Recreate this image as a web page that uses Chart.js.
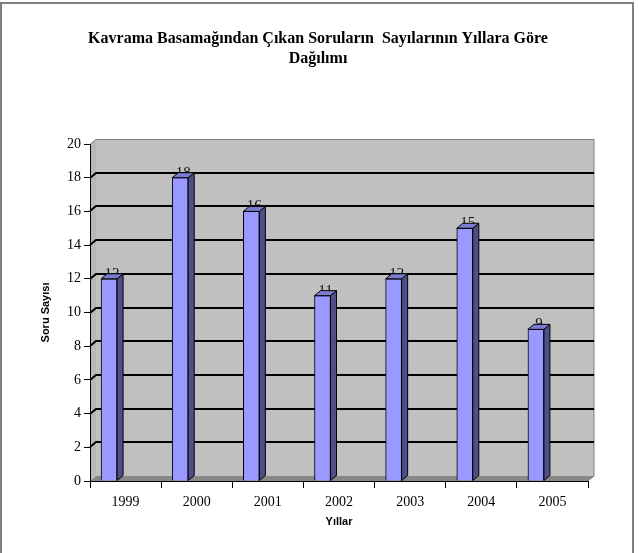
<!DOCTYPE html>
<html><head><meta charset="utf-8">
<script src="https://cdn.jsdelivr.net/npm/chart.js@4/dist/chart.umd.min.js"></script>
<style>html,body{margin:0;padding:0;background:#fff}#wrap{position:relative;width:639px;height:553px}canvas{display:block}</style>
</head><body><div id="wrap"><canvas id="c" width="639" height="553"></canvas></div>
<script>
const years = ['1999', '2000', '2001', '2002', '2003', '2004', '2005'];
const counts = [12, 18, 16, 11, 12, 15, 9];
const yMin = 0, yMax = 20, yStep = 2;
const chartTitle = ['Kavrama Basamağından Çıkan Soruların  Sayılarının Yıllara Göre', 'Dağılımı'];
const xTitle = 'Yıllar';
const yTitle = 'Soru Sayısı';

// 3D look parameters (style only)
const DX = 6, DY = 5, SHIFT = -16.5;

function poly(ctx, pts, fill, stroke, lw) {
  ctx.beginPath();
  ctx.moveTo(pts[0][0], pts[0][1]);
  for (let i = 1; i < pts.length; i++) ctx.lineTo(pts[i][0], pts[i][1]);
  ctx.closePath();
  if (fill) { ctx.fillStyle = fill; ctx.fill(); }
  if (stroke) { ctx.strokeStyle = stroke; ctx.lineWidth = lw || 1; ctx.stroke(); }
}

const scene3d = {
  id: 'scene3d',
  beforeDraw(chart) {
    const { ctx, chartArea: a, scales: { y } } = chart;
    ctx.save();
    ctx.fillStyle = '#fff';
    ctx.fillRect(0, 0, chart.width, chart.height);
    ctx.strokeStyle = '#808080'; ctx.lineWidth = 2;
    ctx.strokeRect(1, 3, 632, 600);
    const L = a.left, R = a.right, T = a.top, B = a.bottom;
    ctx.fillStyle = '#c0c0c0';
    ctx.fillRect(L + DX, T - DY, R - L, B - T);
    poly(ctx, [[L, T], [L + DX, T - DY], [L + DX, B - DY], [L, B]], '#b8b8b8');
    poly(ctx, [[L, B], [L + DX, B - DY], [R + DX, B - DY], [R, B]], '#888888');
    ctx.strokeStyle = '#808080'; ctx.lineWidth = 1;
    ctx.beginPath();
    ctx.moveTo(L, T + 0.5); ctx.lineTo(L + DX, T - DY + 0.5); ctx.lineTo(R + DX, T - DY + 0.5);
    ctx.lineTo(R + DX, B - DY); ctx.lineTo(R, B);
    ctx.stroke();
    ctx.strokeStyle = '#000'; ctx.lineWidth = 2;
    for (let v = yMin + yStep; v < yMax; v += yStep) {
      const yy = Math.round(y.getPixelForValue(v));
      ctx.beginPath();
      ctx.moveTo(L, yy); ctx.lineTo(L + DX, yy - DY); ctx.lineTo(R + DX, yy - DY);
      ctx.stroke();
    }
    ctx.restore();
  },
  beforeDatasetsDraw(chart) {
    const ctx = chart.ctx;
    ctx.save();
    ctx.translate(SHIFT, 0);
    const meta = chart.getDatasetMeta(0);
    ctx.fillStyle = '#111';
    ctx.font = '15px "Liberation Serif"';
    ctx.textAlign = 'center';
    ctx.textBaseline = 'alphabetic';
    meta.data.forEach((el, i) => {
      const p = el.getProps(['x', 'y'], true);
      ctx.fillText(String(chart.data.datasets[0].data[i]), p.x + DX / 2, p.y - 1);
    });
  },
  afterDatasetsDraw(chart) {
    const ctx = chart.ctx;
    const meta = chart.getDatasetMeta(0);
    meta.data.forEach((el) => {
      const p = el.getProps(['x', 'y', 'base', 'width'], true);
      const l = p.x - p.width / 2, r = p.x + p.width / 2, t = p.y, b = p.base;
      poly(ctx, [[r, t], [r + DX, t - DY], [r + DX, b - DY], [r, b]], '#4e4e88', '#000', 1);
      poly(ctx, [[l, t], [l + DX, t - DY], [r + DX, t - DY], [r, t]], '#7b7bcf', '#000', 1);
    });
    ctx.restore();
  }
};

new Chart(document.getElementById('c'), {
  type: 'bar',
  data: {
    labels: years,
    datasets: [{
      data: counts,
      backgroundColor: '#9999ff',
      borderColor: '#000',
      borderWidth: 1,
      barThickness: 16
    }]
  },
  options: {
    responsive: false,
    animation: false,
    devicePixelRatio: 1,
    layout: { padding: { left: 48, right: 51, top: 0, bottom: 0 } },
    plugins: {
      legend: { display: false },
      tooltip: { enabled: false },
      title: {
        display: true,
        text: chartTitle,
        color: '#000',
        font: { family: 'Liberation Serif', size: 16, weight: 'bold', lineHeight: 1.25 },
        padding: { top: 29, bottom: 75 }
      }
    },
    scales: {
      x: {
        grid: { drawOnChartArea: false, tickLength: 7, tickColor: '#000', tickWidth: 1 },
        border: { color: '#000', width: 1 },
        ticks: { color: '#000', font: { family: 'Liberation Serif', size: 14 }, padding: 6 },
        title: { display: true, text: xTitle, color: '#000', font: { family: 'Liberation Sans', size: 11, weight: 'bold' }, padding: { top: 0, bottom: 24 } },
        afterFit(s) { s.height = 72; }
      },
      y: {
        min: yMin, max: yMax,
        ticks: { stepSize: yStep, color: '#000', font: { family: 'Liberation Serif', size: 14 }, padding: 3 },
        grid: { drawOnChartArea: false, tickLength: 6, tickColor: '#000', tickWidth: 1 },
        border: { color: '#000', width: 1 },
        title: { display: true, text: yTitle, color: '#000', font: { family: 'Liberation Sans', size: 11, weight: 'bold' }, padding: { top: -9, bottom: 0 } },
        afterFit(s) { s.width = 42; }
      }
    }
  },
  plugins: [scene3d]
});
</script>
</body></html>
